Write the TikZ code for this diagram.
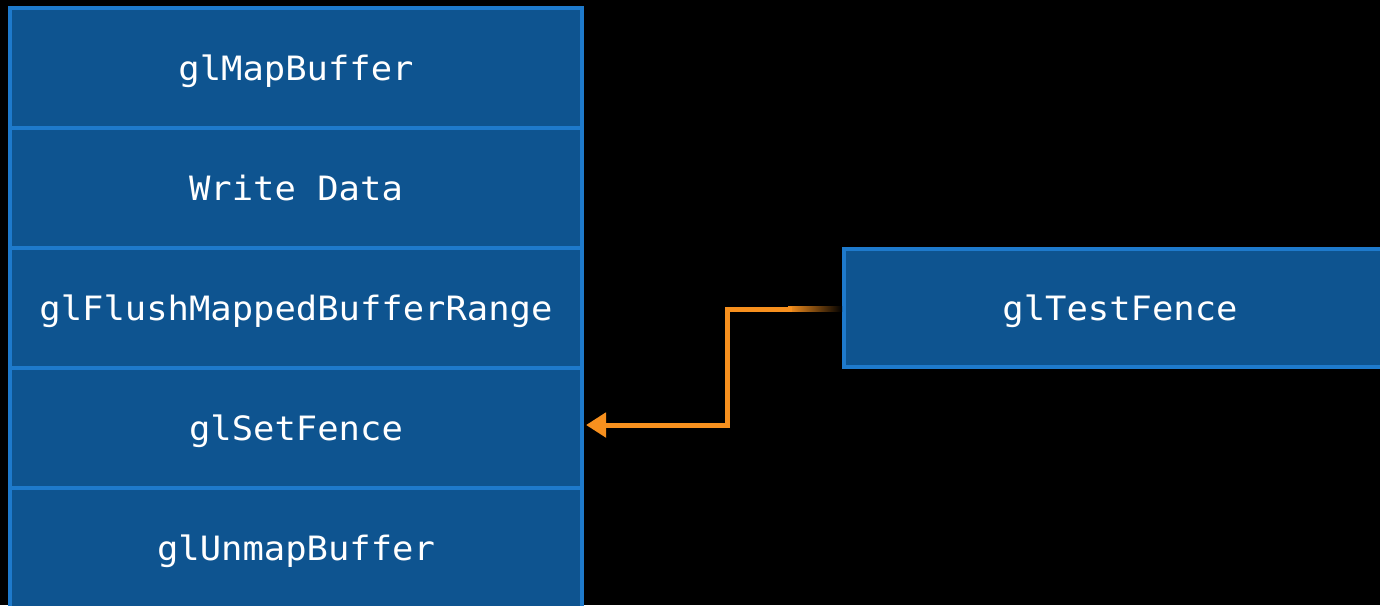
\documentclass[tikz,border=0pt]{standalone}
\usepackage{fontspec}
\newfontfamily\codefont[FakeStretch=1.06]{DejaVu Sans Mono}
\usetikzlibrary{arrows.meta}
\definecolor{boxfill}{HTML}{0E5490}
\definecolor{boxline}{HTML}{1E7ACC}
\definecolor{arrowc}{HTML}{F7901E}
\begin{document}
\begin{tikzpicture}[x=1pt,y=-1pt,
  stackbox/.style={draw=boxline, fill=boxfill, line width=4pt, minimum width=572pt, minimum height=120pt,
    inner sep=0pt, outer sep=0pt, text=white, text height=24pt, text depth=0pt,
    font=\codefont\fontsize{33.5}{38}\selectfont},
  link/.style={draw=arrowc, line width=5pt}]
\useasboundingbox (0,0) rectangle (1380,605);
\clip (0,0) rectangle (1380,605);
\fill[black] (0,0) rectangle (1380,605);
\node[stackbox] (map) at (296,68) {glMapBuffer};
\node[stackbox] (write) at (296,188) {Write Data};
\node[stackbox] (flush) at (296,308) {glFlushMappedBufferRange};
\node[stackbox] (setfence) at (296,428) {glSetFence};
\node[stackbox] (unmap) at (296,548) {glUnmapBuffer};
\node[stackbox, minimum width=552pt, minimum height=118pt] (test) at (1120,308) {glTestFence};
\coordinate (fadeend) at (792,309);
\coordinate (bend) at (727,309);
\shade[left color=arrowc, right color=black] (788,306.5) rectangle (842,311.5);
\draw[link, -{Triangle[length=20pt,width=24pt]}, line join=miter]
  (fadeend) -- (bend) |- ([xshift=4pt,yshift=3pt]setfence.east);
\end{tikzpicture}
\end{document}
